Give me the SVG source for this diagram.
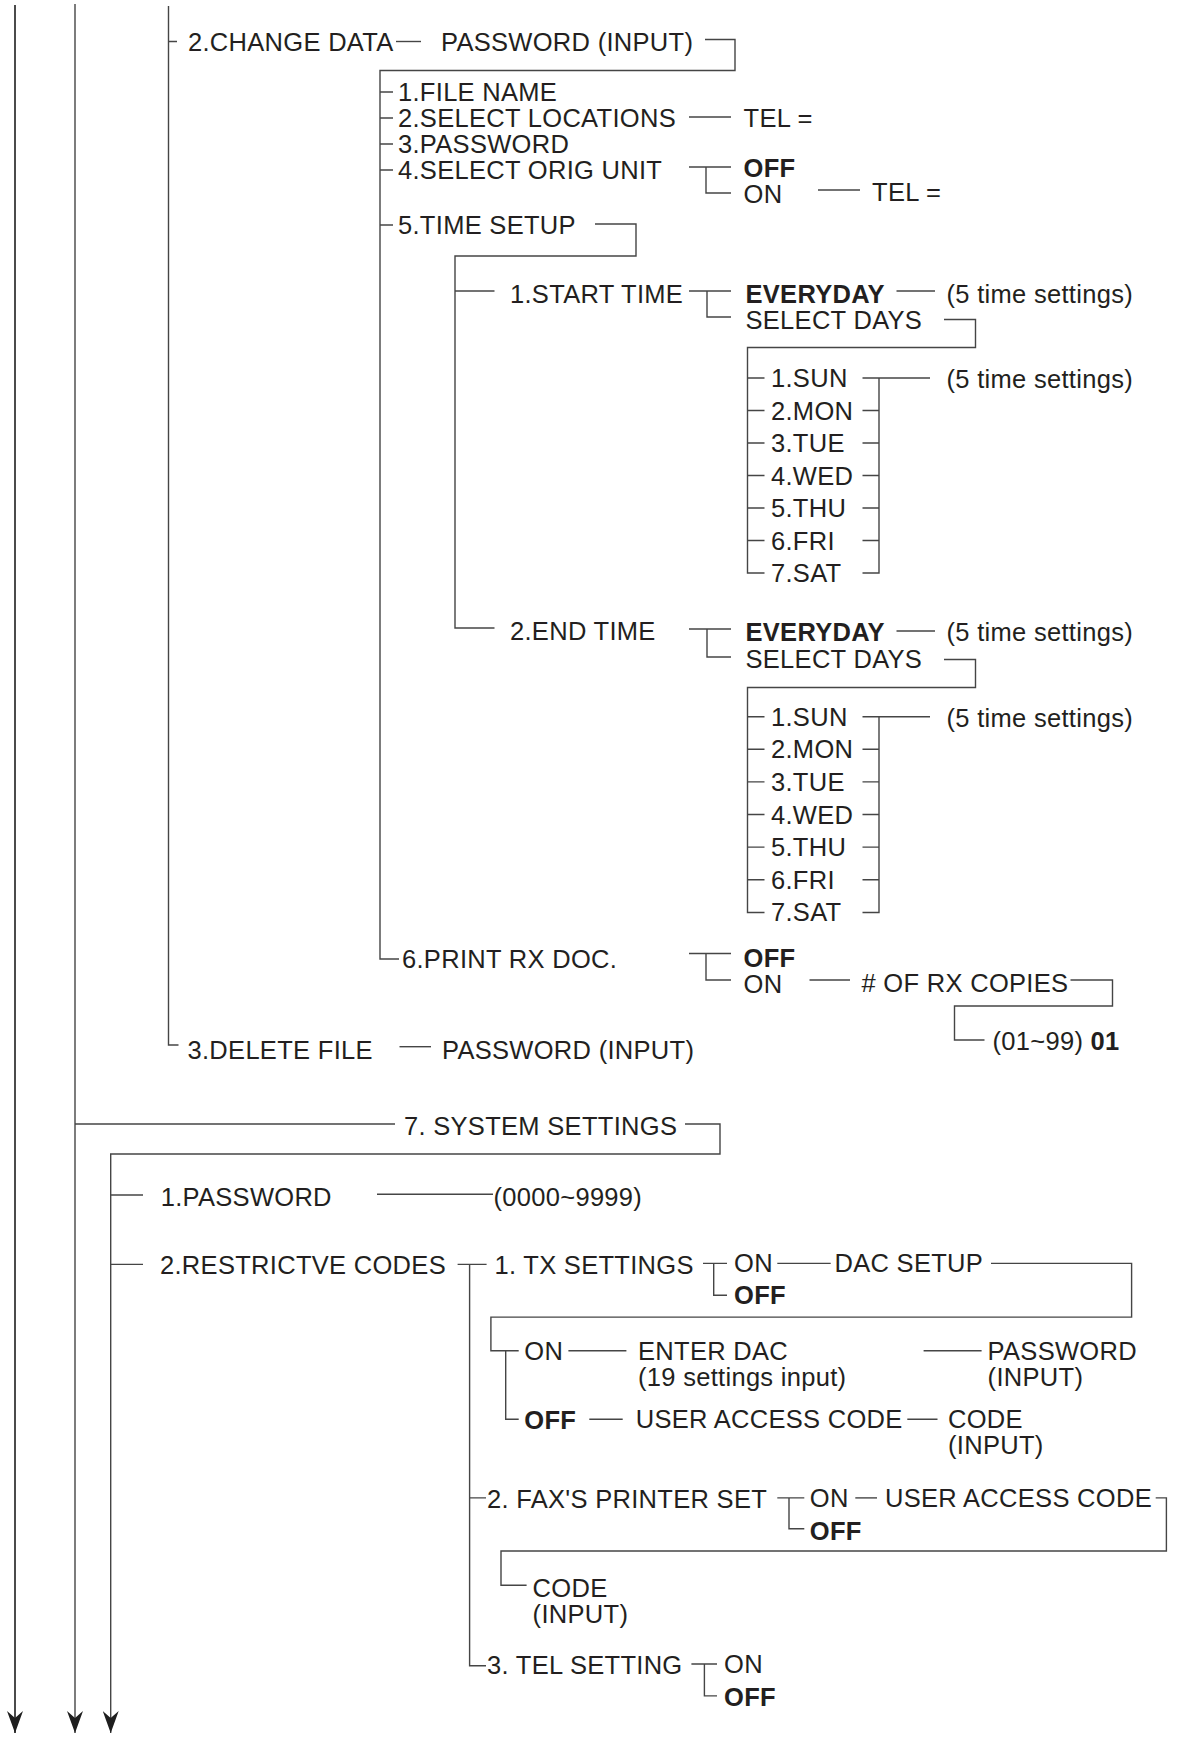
<svg xmlns="http://www.w3.org/2000/svg" width="1178" height="1737" viewBox="0 0 1178 1737">
<style>
.t{font-family:"Liberation Sans",Arial,Helvetica,sans-serif;font-size:25.5px;letter-spacing:0.3px;fill:#231f20}
.b{font-weight:bold}
.c{fill:none;stroke:#454545;stroke-width:1.4}
.k{stroke:#1e1e1e;stroke-width:1.6}
</style>
<defs>
<marker id="arr" markerUnits="userSpaceOnUse" viewBox="0 0 22 16" refX="22" refY="8" markerWidth="22" markerHeight="16" orient="auto">
<path d="M0,0 L22,8 L0,16 L7,8 Z" fill="#1e1e1e"/>
</marker>
</defs>
<rect width="1178" height="1737" fill="#ffffff"/>
<g id="connectors">
<path class="c k" d="M15,5 V1733" marker-end="url(#arr)"/>
<path class="c" d="M75,4 V1733" marker-end="url(#arr)"/>
<path class="c" d="M168.5,6 V1045 H178.5 M168.5,41.5 H177"/>
<path class="c" d="M396,41.5 H421"/>
<path class="c" d="M705,39.5 H735 V70.5 H380 V959 H399"/>
<path class="c" d="M380,92 H393 M380,118 H393 M380,144 H393 M380,170 H393 M380,225 H393"/>
<path class="c" d="M689,117 H731"/>
<path class="c" d="M689,167 H731 M706,167 V193 H731"/>
<path class="c" d="M818,190 H860"/>
<path class="c" d="M595,224 H636 V256 H455 V628 H494.5"/>
<path class="c" d="M455,291 H494.5"/>
<path class="c" d="M689,291 H731 M707,291 V317 H731"/>
<path class="c" d="M896.5,291 H935"/>
<path class="c" d="M944,319.5 H975.5 V347.5 H747.5 V573 H764.5"/>
<path class="c" d="M747.5,378 H764.5 M747.5,410.5 H764.5 M747.5,443 H764.5 M747.5,475.5 H764.5 M747.5,508 H764.5 M747.5,540.5 H764.5"/>
<path class="c" d="M862.5,378 H930 M879,378 V573 H862.5 M862.5,410.5 H879 M862.5,443 H879 M862.5,475.5 H879 M862.5,508 H879 M862.5,540.5 H879"/>
<path class="c" d="M689,629 H731 M707,629 V657 H731"/>
<path class="c" d="M896.5,631 H935"/>
<path class="c" d="M944,659.5 H975.5 V687.5 H747.5 V912.5 H764.5"/>
<path class="c" d="M747.5,716.7 H764.5 M747.5,749.3 H764.5 M747.5,781.9 H764.5 M747.5,814.5 H764.5 M747.5,847.1 H764.5 M747.5,879.7 H764.5"/>
<path class="c" d="M862.5,716.7 H930 M879,716.7 V912.5 H862.5 M862.5,749.3 H879 M862.5,781.9 H879 M862.5,814.5 H879 M862.5,847.1 H879 M862.5,879.7 H879"/>
<path class="c" d="M689,953.5 H731 M706,953.5 V980 H731"/>
<path class="c" d="M809.5,980 H850"/>
<path class="c" d="M1070.5,980 H1112.5 V1006 H954.5 V1040 H984.5"/>
<path class="c" d="M399.5,1046.7 H431"/>
<path class="c" d="M75,1124 H395"/>
<path class="c" d="M685,1124 H720 V1154 H110.7 V1733" marker-end="url(#arr)"/>
<path class="c" d="M110.7,1195 H143 M377,1194.3 H493"/>
<path class="c" d="M110.7,1264.4 H143"/>
<path class="c" d="M457.6,1264.4 H486.6 M469.6,1264.4 V1665.8 H486 M469.6,1497.9 H486"/>
<path class="c" d="M703,1263.4 H727 M713.7,1263.4 V1295.2 H727"/>
<path class="c" d="M777.3,1263.4 H830.7"/>
<path class="c" d="M991,1263.4 H1131.6 V1317.1 H490.9 V1350.7 H518.7 M505.7,1350.7 V1419.2 H518.7"/>
<path class="c" d="M568.4,1350.7 H626.4 M923.6,1350.7 H981.6"/>
<path class="c" d="M589.3,1419.2 H622.7 M907.3,1419.2 H937.5"/>
<path class="c" d="M777.3,1497.9 H804.3 M789,1497.9 V1528.8 H804.3"/>
<path class="c" d="M855.3,1497.9 H877"/>
<path class="c" d="M1155.7,1497.9 H1166.4 V1551 H501 V1585.3 H526.6"/>
<path class="c" d="M691.4,1664 H717 M704.4,1664 V1695.9 H717"/>
</g>
<g id="change-data"><text class="t" x="188" y="50.5">2.CHANGE DATA</text></g>
<g id="change-data-password"><text class="t" x="441" y="50.5">PASSWORD (INPUT)</text></g>
<g id="file-name"><text class="t" x="398" y="101">1.FILE NAME</text></g>
<g id="select-locations"><text class="t" x="398" y="127">2.SELECT LOCATIONS</text></g>
<g id="select-locations-tel"><text class="t" x="743.5" y="127">TEL =</text></g>
<g id="password3"><text class="t" x="398" y="153">3.PASSWORD</text></g>
<g id="select-orig-unit"><text class="t" x="398" y="179">4.SELECT ORIG UNIT</text></g>
<g id="orig-off"><text class="t b" x="743.5" y="177">OFF</text></g>
<g id="orig-on"><text class="t" x="743.5" y="203">ON</text></g>
<g id="orig-tel"><text class="t" x="872" y="201">TEL =</text></g>
<g id="time-setup"><text class="t" x="398" y="234">5.TIME SETUP</text></g>
<g id="start-time"><text class="t" x="510" y="303">1.START TIME</text></g>
<g id="start-everyday"><text class="t b" x="745.5" y="303">EVERYDAY</text></g>
<g id="start-everyday-settings"><text class="t" x="946.5" y="303">(5 time settings)</text></g>
<g id="start-select-days"><text class="t" x="745.5" y="329">SELECT DAYS</text></g>
<g id="start-days">
<text class="t" x="771" y="387">1.SUN</text>
<text class="t" x="771" y="419.5">2.MON</text>
<text class="t" x="771" y="452">3.TUE</text>
<text class="t" x="771" y="484.5">4.WED</text>
<text class="t" x="771" y="517">5.THU</text>
<text class="t" x="771" y="549.5">6.FRI</text>
<text class="t" x="771" y="582">7.SAT</text>
</g>
<g id="start-days-settings"><text class="t" x="946.5" y="388">(5 time settings)</text></g>
<g id="end-time"><text class="t" x="510" y="640">2.END TIME</text></g>
<g id="end-everyday"><text class="t b" x="745.5" y="641">EVERYDAY</text></g>
<g id="end-everyday-settings"><text class="t" x="946.5" y="641">(5 time settings)</text></g>
<g id="end-select-days"><text class="t" x="745.5" y="667.5">SELECT DAYS</text></g>
<g id="end-days">
<text class="t" x="771" y="725.7">1.SUN</text>
<text class="t" x="771" y="758.3">2.MON</text>
<text class="t" x="771" y="790.9">3.TUE</text>
<text class="t" x="771" y="823.5">4.WED</text>
<text class="t" x="771" y="856.1">5.THU</text>
<text class="t" x="771" y="888.7">6.FRI</text>
<text class="t" x="771" y="921.3">7.SAT</text>
</g>
<g id="end-days-settings"><text class="t" x="946.5" y="726.5">(5 time settings)</text></g>
<g id="print-rx-doc"><text class="t" x="402" y="968">6.PRINT RX DOC.</text></g>
<g id="print-off"><text class="t b" x="743.5" y="966.5">OFF</text></g>
<g id="print-on"><text class="t" x="743.5" y="992.5">ON</text></g>
<g id="rx-copies"><text class="t" x="861.5" y="992"># OF RX COPIES</text></g>
<g id="rx-copies-range"><text class="t" x="992.5" y="1050">(01~99) <tspan class="b">01</tspan></text></g>
<g id="delete-file"><text class="t" x="187.5" y="1059">3.DELETE FILE</text></g>
<g id="delete-password"><text class="t" x="442" y="1059">PASSWORD (INPUT)</text></g>
<g id="system-settings"><text class="t" x="404" y="1135">7. SYSTEM SETTINGS</text></g>
<g id="sys-password"><text class="t" x="160.7" y="1206">1.PASSWORD</text></g>
<g id="sys-password-range"><text class="t" x="493.5" y="1206">(0000~9999)</text></g>
<g id="restrictive-codes"><text class="t" x="160" y="1273.6">2.RESTRICTVE CODES</text></g>
<g id="tx-settings"><text class="t" x="494.5" y="1274">1. TX SETTINGS</text></g>
<g id="tx-on"><text class="t" x="734" y="1272">ON</text></g>
<g id="tx-off"><text class="t b" x="734" y="1303.8">OFF</text></g>
<g id="dac-setup"><text class="t" x="834.5" y="1272">DAC SETUP</text></g>
<g id="dac-on"><text class="t" x="524.3" y="1360">ON</text></g>
<g id="enter-dac"><text class="t" x="638" y="1359.5">ENTER DAC</text><text class="t" x="638" y="1385.5">(19 settings input)</text></g>
<g id="dac-password"><text class="t" x="987.6" y="1359.5">PASSWORD</text><text class="t" x="987.6" y="1386">(INPUT)</text></g>
<g id="dac-off"><text class="t b" x="524.3" y="1428.8">OFF</text></g>
<g id="tx-user-access"><text class="t" x="635.7" y="1427.7">USER ACCESS CODE</text></g>
<g id="tx-code"><text class="t" x="948" y="1428">CODE</text><text class="t" x="948" y="1454">(INPUT)</text></g>
<g id="fax-printer-set"><text class="t" x="487" y="1508">2. FAX'S PRINTER SET</text></g>
<g id="fax-on"><text class="t" x="809.8" y="1506.5">ON</text></g>
<g id="fax-off"><text class="t b" x="809.8" y="1540">OFF</text></g>
<g id="fax-user-access"><text class="t" x="885" y="1506.5">USER ACCESS CODE</text></g>
<g id="fax-code"><text class="t" x="532.6" y="1597">CODE</text><text class="t" x="532.6" y="1623">(INPUT)</text></g>
<g id="tel-setting"><text class="t" x="487" y="1674.3">3. TEL SETTING</text></g>
<g id="tel-on"><text class="t" x="724" y="1672.6">ON</text></g>
<g id="tel-off"><text class="t b" x="724" y="1706">OFF</text></g>
</svg>
